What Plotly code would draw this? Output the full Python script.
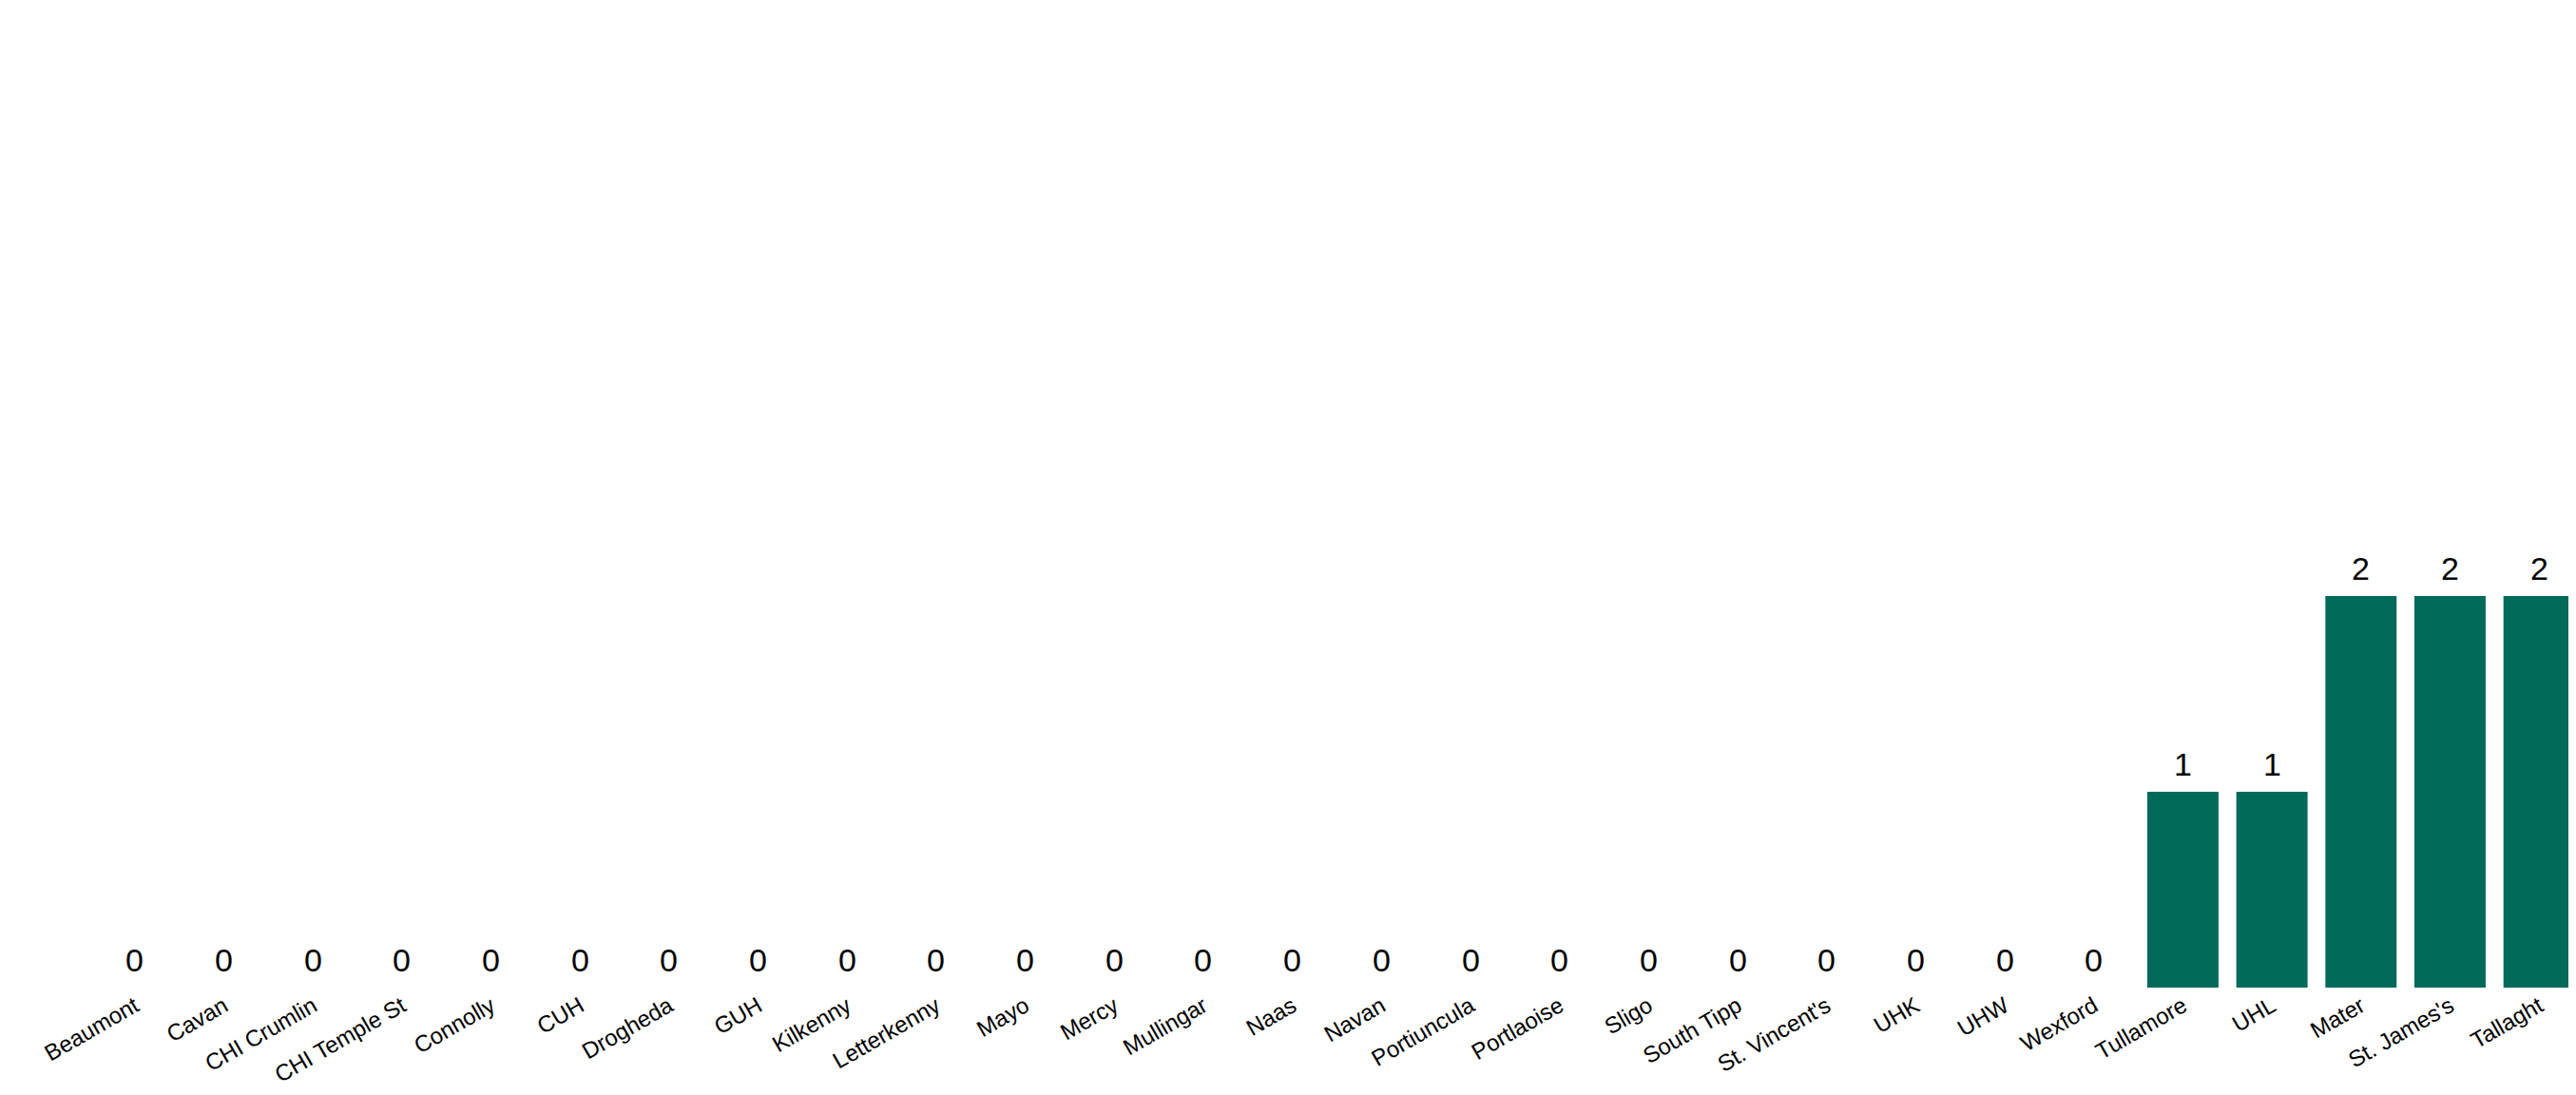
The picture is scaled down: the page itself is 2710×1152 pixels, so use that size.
import plotly.graph_objects as go

categories = ["Beaumont", "Cavan", "CHI Crumlin", "CHI Temple St", "Connolly", "CUH",
              "Drogheda", "GUH", "Kilkenny", "Letterkenny", "Mayo", "Mercy", "Mullingar",
              "Naas", "Navan", "Portiuncula", "Portlaoise", "Sligo", "South Tipp",
              "St. Vincent's", "UHK", "UHW", "Wexford", "Tullamore", "UHL", "Mater",
              "St. James's", "Tallaght"]
values = [0, 0, 0, 0, 0, 0, 0, 0, 0, 0, 0, 0, 0, 0, 0, 0, 0, 0, 0, 0, 0, 0, 0,
          1, 1, 2, 2, 2]

BAR_COLOR = "#016A59"
FONT = "Arial, Liberation Sans, sans-serif"

fig = go.Figure(
    go.Bar(
        x=categories,
        y=values,
        marker=dict(color=BAR_COLOR, line=dict(width=0)),
        cliponaxis=False,
        hoverinfo="x+y",
    )
)

# value labels above each bar, positioned on the data scale
for cat, val in zip(categories, values):
    fig.add_annotation(
        x=cat, y=val, xref="x", yref="y",
        text=str(val),
        showarrow=False,
        yanchor="bottom",
        yshift=8,
        font=dict(family=FONT, size=34, color="black"),
    )

fig.update_layout(
    width=2710,
    height=1152,
    paper_bgcolor="white",
    plot_bgcolor="white",
    bargap=0.2,
    showlegend=False,
    margin=dict(l=87, r=0, t=7, b=121, autoexpand=False),
    font=dict(family=FONT, color="black"),
    xaxis=dict(
        type="category",
        tickangle=-30,
        tickfont=dict(family=FONT, size=24, color="black"),
        showgrid=False,
        showline=False,
        zeroline=False,
        ticks="",
        automargin=False,
    ),
    yaxis=dict(
        range=[0, 4.97],
        visible=False,
        showgrid=False,
        zeroline=False,
        fixedrange=True,
    ),
)

fig.write_html("out.html")
